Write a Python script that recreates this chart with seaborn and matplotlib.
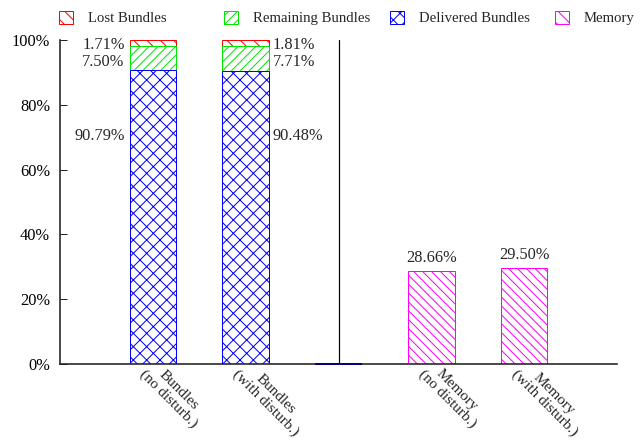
import matplotlib
matplotlib.use("Agg")
import matplotlib.pyplot as plt
from matplotlib.patches import Patch
from matplotlib.transforms import ScaledTranslation
import numpy as np
import seaborn as sns

# ---- data -------------------------------------------------------------
categories = ["Bundles\n(no disturb.)", "Bundles\n(with disturb.)", " ",
              "Memory\n(no disturb.)", "Memory\n(with disturb.)"]
bundle_cats = categories[:2]
gap_cats = categories[2:3]
memory_cats = categories[3:]

lost = [1.71, 1.81]
remaining = [7.50, 7.71]
delivered = [90.79, 90.48]
memory = [28.66, 29.50]
gap_value = [0.0]

legend_labels = ["Lost Bundles", "Remaining Bundles", "Delivered Bundles", "Memory"]
yticks = [0, 20, 40, 60, 80, 100]

# ---- style ------------------------------------------------------------
DPI = 80
PX = 72.0 / DPI          # points per pixel
W, H = 642, 441

RED, GREEN, BLUE, MAGENTA, NAVY = "#ff0000", "#00e600", "#0000ff", "#ff00ff", "#000080"
FS = 14.7
FS_X = 13.7
FS_LEG = 13.3

HATCH_LOST = "\\\\"
HATCH_REMAIN = "///"
HATCH_DELIV = "xx"
HATCH_MEM = "\\\\\\"

sns.set_style("ticks")
plt.rcParams["font.family"] = ["Liberation Serif", "DejaVu Serif"]
plt.rcParams["hatch.linewidth"] = 1.0 * PX

fig = plt.figure(figsize=(W / DPI, H / DPI), dpi=DPI)
ax = fig.add_axes([60 / W, 1 - 364 / H, (617 - 60) / W, (364 - 40) / H])

bar_kw = dict(order=categories, width=0.5, errorbar=None, ax=ax,
              linewidth=1.0 * PX, facecolor="white")

# stacked bundle bars, drawn back to front from cumulative totals
lost_top = np.add(np.add(lost, remaining), delivered)
remaining_top = np.add(remaining, delivered)
sns.barplot(x=bundle_cats, y=lost_top, edgecolor=RED, hatch=HATCH_LOST, **bar_kw)
sns.barplot(x=bundle_cats, y=remaining_top, edgecolor=GREEN, hatch=HATCH_REMAIN, **bar_kw)
sns.barplot(x=bundle_cats, y=delivered, edgecolor=BLUE, hatch=HATCH_DELIV, **bar_kw)

# empty slot between the two groups
sns.barplot(x=gap_cats, y=gap_value, order=categories, width=0.5, errorbar=None,
            ax=ax, facecolor="white", edgecolor=NAVY, linewidth=2.0 * PX,
            zorder=3, clip_on=False)

# memory bars
sns.barplot(x=memory_cats, y=memory, edgecolor=MAGENTA, hatch=HATCH_MEM, **bar_kw)

# group separator
ax.axvline(2, color="black", lw=1.2 * PX, zorder=2)

# ---- value labels -----------------------------------------------------
side_label_heights = [98.5, 93.2, 70.4]   # lost, remaining, delivered
for i, cat in enumerate(bundle_cats):
    vals = [lost[i], remaining[i], delivered[i]]
    if i == 0:
        x_edge, dx, ha = i - 0.25, -5 * PX, "right"
    else:
        x_edge, dx, ha = i + 0.25, 4 * PX, "left"
    for v, yh in zip(vals, side_label_heights):
        ax.annotate(f"{v:.2f}%", xy=(x_edge, yh), xytext=(dx, 0),
                    textcoords="offset points", ha=ha, va="center", fontsize=FS)

for j, v in enumerate(memory):
    ax.annotate(f"{v:.2f}%", xy=(3 + j, v), xytext=(0, 5 * PX),
                textcoords="offset points", ha="center", va="bottom", fontsize=FS)

# ---- axes -------------------------------------------------------------
ax.set_xlim(-1, 5)
ax.set_ylim(0, 100)
ax.set_yticks(yticks)
ax.set_yticklabels([f"{t}%" for t in yticks], fontsize=FS)
ax.tick_params(axis="y", direction="in", length=7 * PX, width=1.0 * PX,
               pad=10 * PX, colors="#222222")
ax.tick_params(axis="y", labelcolor="black")

ax.set_xticks(range(len(categories)))
ax.set_xticklabels(categories, rotation=-45, ha="left", va="center",
                   rotation_mode="anchor", multialignment="center",
                   linespacing=1.0, fontsize=FS_X)
ax.tick_params(axis="x", length=0, pad=4 * PX)
shift = ScaledTranslation(-6 / DPI, 0, fig.dpi_scale_trans)
for lab in ax.get_xticklabels():
    lab.set_transform(lab.get_transform() + shift)

ax.set_xlabel("")
ax.set_ylabel("")
sns.despine(ax=ax)
for side in ("left", "bottom"):
    ax.spines[side].set_color("#222222")
    ax.spines[side].set_linewidth(1.6 * PX)

# ---- legend (evenly spaced entries across the top) ---------------------
styles = [(RED, "\\\\"), (GREEN, "///"), (BLUE, "xx"), (MAGENTA, "\\\\")]
legend_x = [59, 224, 390, 555]
for (c, h), lab, lx in zip(styles, legend_labels, legend_x):
    handle = Patch(facecolor="white", edgecolor=c, hatch=h, linewidth=1.0 * PX)
    fig.legend(handles=[handle], labels=[lab], loc="center left",
               bbox_to_anchor=(lx / W, 1 - 18 / H), frameon=False,
               borderpad=0, borderaxespad=0, handlelength=0.97,
               handleheight=1.05, handletextpad=0.98, fontsize=FS_LEG)

fig.savefig("out.png", dpi=DPI)
